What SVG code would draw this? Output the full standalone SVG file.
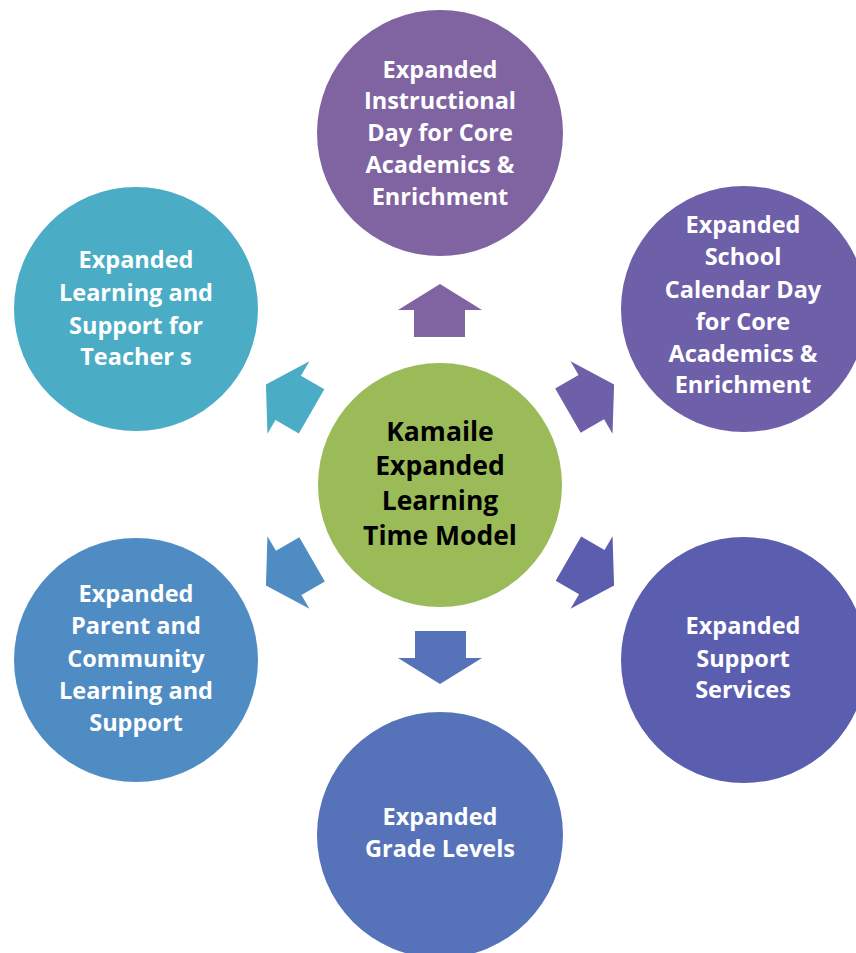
<svg xmlns="http://www.w3.org/2000/svg" width="856" height="953" viewBox="0 0 856 953">
  <defs>
    <style>
      .lbl { font-family: "Open Sans", "Noto Sans", "Liberation Sans", sans-serif; font-weight: 700; font-size: 23.5px; fill: #ffffff; text-anchor: middle; }
      .hub { font-family: "Open Sans", "Noto Sans", "Liberation Sans", sans-serif; font-weight: 700; font-size: 26.5px; fill: #000000; text-anchor: middle; }
    </style>
    <!-- block arrow pointing up, placed just above the hub -->
    <polygon id="blockArrow" points="440,284 482,310 465,310 465,337 414,337 414,310 398,310"/>
  </defs>
  <rect width="856" height="953" fill="#ffffff"/>

  <!-- arrows radiating from the hub -->
  <g id="connectors">
    <use href="#blockArrow" fill="#8064A2"/>
    <use href="#blockArrow" fill="#6E5FA9" transform="rotate(60 440 485)"/>
    <use href="#blockArrow" fill="#5B5EAF" transform="rotate(120 440 485)"/>
    <use href="#blockArrow" fill="#5673B9" transform="rotate(180 440 484)"/>
    <use href="#blockArrow" fill="#4F8CC3" transform="rotate(-120 440 485)"/>
    <use href="#blockArrow" fill="#4BACC6" transform="rotate(-60 440 485)"/>
  </g>

  <g id="hub">
    <circle cx="440" cy="485" r="122" fill="#9BBB59"/>
    <text class="hub" x="440" y="441">Kamaile</text>
    <text class="hub" x="440" y="475">Expanded</text>
    <text class="hub" x="440" y="510">Learning</text>
    <text class="hub" x="440" y="545">Time Model</text>
  </g>

  <g id="instructional-day">
    <circle cx="440" cy="133" r="123" fill="#8064A2"/>
    <text class="lbl" x="440" y="78">Expanded</text>
    <text class="lbl" x="440" y="109">Instructional</text>
    <text class="lbl" x="440" y="141">Day for Core</text>
    <text class="lbl" x="440" y="173">Academics &amp;</text>
    <text class="lbl" x="440" y="205">Enrichment</text>
  </g>

  <g id="calendar-day">
    <circle cx="744" cy="309" r="123" fill="#6E5FA9"/>
    <text class="lbl" x="743" y="233">Expanded</text>
    <text class="lbl" x="743" y="265">School</text>
    <text class="lbl" x="743" y="298">Calendar Day</text>
    <text class="lbl" x="743" y="330">for Core</text>
    <text class="lbl" x="743" y="362">Academics &amp;</text>
    <text class="lbl" x="743" y="393">Enrichment</text>
  </g>

  <g id="support-services">
    <circle cx="744" cy="660" r="123" fill="#5B5EAF"/>
    <text class="lbl" x="743" y="634">Expanded</text>
    <text class="lbl" x="743" y="667">Support</text>
    <text class="lbl" x="743" y="698">Services</text>
  </g>

  <g id="grade-levels">
    <circle cx="440" cy="835" r="123" fill="#5673B9"/>
    <text class="lbl" x="440" y="825">Expanded</text>
    <text class="lbl" x="440" y="857">Grade Levels</text>
  </g>

  <g id="parent-community">
    <circle cx="136" cy="660" r="122" fill="#4F8CC3"/>
    <text class="lbl" x="136" y="602">Expanded</text>
    <text class="lbl" x="136" y="634">Parent and</text>
    <text class="lbl" x="136" y="667">Community</text>
    <text class="lbl" x="136" y="699">Learning and</text>
    <text class="lbl" x="136" y="731">Support</text>
  </g>

  <g id="teacher-support">
    <circle cx="136" cy="309" r="122" fill="#4BACC6"/>
    <text class="lbl" x="136" y="268">Expanded</text>
    <text class="lbl" x="136" y="301">Learning and</text>
    <text class="lbl" x="136" y="334">Support for</text>
    <text class="lbl" x="136" y="365">Teacher s</text>
  </g>
</svg>
